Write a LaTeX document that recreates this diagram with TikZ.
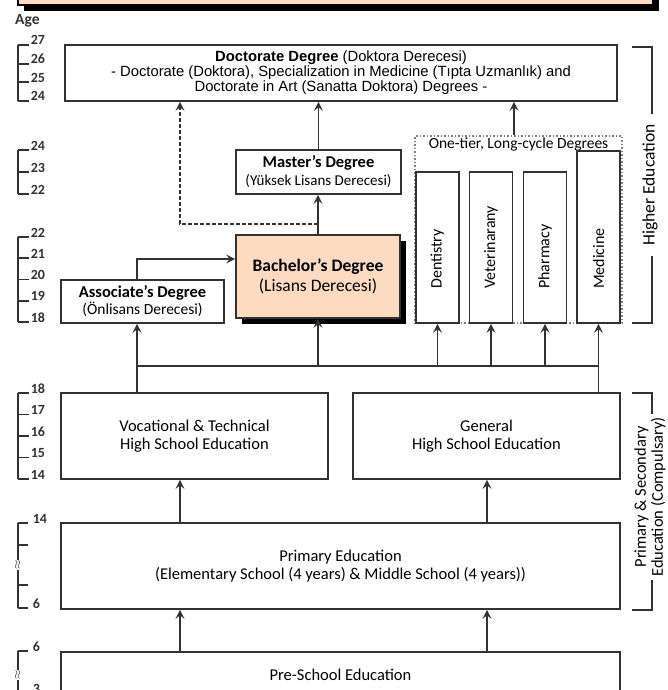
\documentclass[tikz,border=0pt]{standalone}
\usepackage{fontspec}
\setmainfont{Carlito}
\newfontfamily\arialfont{Liberation Sans}
\usetikzlibrary{arrows.meta,shadows}
\definecolor{peach}{RGB}{252,219,193}
\definecolor{linegray}{RGB}{50,50,50}
\newcommand{\fs}[2]{\fontsize{#1}{#2}\selectfont}

\tikzset{
  edubox/.style={draw=linegray, line width=1.7pt, fill=white, align=center, inner sep=0pt, font=\fs{16.5}{18}},
  upline/.style={draw=linegray, line width=1.7pt, -{Stealth[length=9pt,width=9pt,inset=3.5pt]}},
  plainline/.style={draw=linegray, line width=1.7pt},
  agebar/.style={draw=linegray, line width=1.7pt},
  agelbl/.style={anchor=base west, inner sep=1pt, font=\bfseries\fs{14}{14}, text=linegray},
  approx/.style={fill=white, inner sep=0.5pt, rotate=90, font=\bfseries\fs{13}{13}, text=linegray},
  sidelbl/.style={fill=white, rotate=90, align=center, font=\fs{16.5}{17}},
  colbox/.style={draw=linegray, line width=1.7pt, fill=white, minimum width=43pt, inner sep=0pt},
  collbl/.style={rotate=90, anchor=west, inner sep=0pt, font=\fs{16}{16}},
  shadowed/.style={drop shadow={shadow xshift=6pt, shadow yshift=-6pt, fill=black, opacity=1}}
}

\begin{document}
\begin{tikzpicture}[x=1pt,y=-1pt]
\useasboundingbox (0,0) rectangle (668,690);
\clip (0,0) rectangle (668,690);

% title banner, cut off at the top
\node[shadowed, draw=black, line width=1.2pt, fill=peach, minimum width=635pt, minimum height=30pt, inner sep=0pt] (banner) at (335.5,-10) {};
\node[anchor=west, inner sep=0pt, font=\bfseries\fs{15.5}{15.5}, text=linegray] (agehdr) at (15,21) {Age};

% higher education
\node[edubox, font=\arialfont\fs{14.8}{12.6}, minimum width=552pt, minimum height=56pt] (doc) at (341,73)
  {\textbf{Doctorate Degree} (Doktora Derecesi)\\- Doctorate (Doktora), Specialization in Medicine (Tıpta Uzmanlık) and\\Doctorate in Art (Sanatta Doktora) Degrees -};
\node[edubox, minimum width=165pt, minimum height=44pt] (mas) at (318.5,172)
  {\textbf{Master's Degree}\\{\fs{15}{18}(Yüksek Lisans Derecesi)}};
\node[edubox, shadowed, fill=peach, font=\fs{17.5}{20}, minimum width=164pt, minimum height=83pt] (bach) at (318,276.5)
  {\textbf{Bachelor's Degree}\\(Lisans Derecesi)};
\node[edubox, font=\fs{16.5}{17}, minimum width=163pt, minimum height=43pt] (assoc) at (142.5,301.5)
  {\textbf{Associate's Degree}\\{\fs{15.5}{17}(Önlisans Derecesi)}};

\node[draw=gray, dotted, line width=1.5pt, minimum width=207pt, minimum height=187pt, inner sep=0pt] (longcyc) at (518.5,229.5) {};
\node[font=\fs{15.5}{16}, inner sep=0pt] (longlbl) at (518.5,144) {One-tier, Long-cycle Degrees};
\foreach \nm/\cx/\txt in {dent/437.5/Dentistry, vet/491/Veterinarany, pharm/545/Pharmacy} {
  \node[colbox, minimum height=151pt] (\nm) at (\cx,247.5) {};
  \node[collbl] (\nm lbl) at (\cx,289) {\txt};
}
\node[colbox, minimum height=172pt] (med) at (598.5,237) {};
\node[collbl] (medlbl) at (598.5,289) {Medicine};

% secondary, primary, pre-school
\node[edubox, minimum width=267pt, minimum height=86pt] (voc) at (194.5,436) {Vocational \& Technical\\High School Education};
\node[edubox, minimum width=267pt, minimum height=86pt] (gen) at (486.5,436) {General\\High School Education};
\node[edubox, minimum width=559pt, minimum height=86pt] (prim) at (340.5,566)
  {Primary Education\\(Elementary School (4 years) \& Middle School (4 years))};
\node[edubox, minimum width=559pt, minimum height=46pt] (presch) at (340.5,675) {Pre-School Education};

% connectors
\coordinate (busL) at (137,366);
\coordinate (busR) at (598.5,366);
\draw[plainline] (busL) -- (busR);
\draw[plainline] (busL |- voc.north) -- (busL);
\draw[plainline] (busR |- gen.north) -- (busR);
\draw[upline] (busL) -- (busL |- assoc.south);
\draw[upline] (bach.south |- busL) -- (bach.south);
\foreach \nm in {dent,vet,pharm,med}
  \draw[upline] (\nm.south |- busL) -- (\nm.south);

\coordinate (a2b) at (137,259);
\draw[upline] (busL |- assoc.north) -- (a2b) -- (a2b -| bach.west);
\draw[upline] (bach.north) -- (bach.north |- mas.south);
\draw[upline] (mas.north) -- (mas.north |- doc.south);
\coordinate (dashturn) at (180,224);
\draw[upline, dash pattern=on 4pt off 2pt] (dashturn -| bach.north) -- (dashturn) -- (dashturn |- doc.south);
\draw[upline] ([xshift=-4.5pt]longcyc.north) -- ([xshift=-4.5pt]longcyc.north |- doc.south);

\foreach \cx in {180,487} {
  \draw[upline] (\cx,0 |- prim.north) -- (\cx,0 |- voc.south);
  \draw[upline] (\cx,0 |- presch.north) -- (\cx,0 |- prim.south);
}

% side brackets
\draw[plainline] (632,47) -- (652,47) -- (652,323) -- (632,323);
\node[sidelbl, font=\fs{17.5}{18}, inner xsep=10pt] (higherlbl) at (650,185) {Higher Education};
\draw[plainline] (632,393) -- (652,393) -- (652,610) -- (632,610);
\node[sidelbl, inner xsep=3pt, inner ysep=1pt] (complbl) at (650,497) {Primary \& Secondary\\Education (Compulsary)};

% age scales
\draw[agebar] (18,45) -- (18,101);
\foreach \y/\a in {45/27,63.7/26,82.3/25,101/24}
  \draw[agebar] (18,\y) -- (29,\y) node[agelbl] (ga\a) {\a};
\draw[agebar] (18,150) -- (18,194);
\foreach \y/\a in {150/24,172/23,194/22}
  \draw[agebar] (18,\y) -- (29,\y) node[agelbl] (gb\a) {\a};
\draw[agebar] (18,237) -- (18,322);
\foreach \y/\a in {237/22,258.25/21,279.5/20,300.75/19,322/18}
  \draw[agebar] (18,\y) -- (29,\y) node[agelbl] (gc\a) {\a};
\draw[agebar] (18,393) -- (18,479);
\foreach \y/\a in {393/18,414.5/17,436/16,457.5/15,479/14}
  \draw[agebar] (18,\y) -- (29,\y) node[agelbl] (gd\a) {\a};
\draw[agebar] (18,523) -- (18,608);
\foreach \y/\a in {523/14,545/{},585/{},608/6}
  \draw[agebar] (18,\y) -- (28,\y) node[agelbl, xshift=3pt] (ge\y) {\a};
\node[approx] (geapprox) at (18,565) {$\approx$};
\draw[agebar] (18,651) -- (18,700);
\foreach \y/\a in {651/6,693/3}
  \draw[agebar] (18,\y) -- (28,\y) node[agelbl, xshift=3pt] (gf\y) {\a};
\node[approx] (gfapprox) at (18,675) {$\approx$};
\end{tikzpicture}
\end{document}
